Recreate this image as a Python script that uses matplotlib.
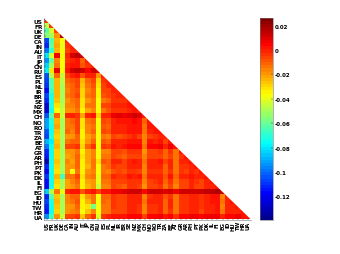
import numpy as np
import matplotlib
matplotlib.use('Agg')
import matplotlib.pyplot as plt
from matplotlib.patches import Polygon
from matplotlib.colors import LinearSegmentedColormap

countries = ['US','FR','UK','DE','CA','IN','AU','IT','JP','CN','RU','ES','PL','NL','IR','BR','SE','NZ','MX','CH',
             'NO','RO','TR','ZA','BE','AT','GR','AR','PH','PT','PK','DK','IL','FI','EG','ID','HU','TW','HR','UA']

# values, in thousandths
rows = [
 [-3],
 [-48,-3],
 [-62,-42,-5],
 [-55,-50,-20,14],
 [-106,-62,-25,-38,-2],
 [-112,-60,-21,-40,-3,-2],
 [-100,-68,-23,-38,-5,-2,-2],
 [-82,-42,6,-38,0,11,14,11],
 [-95,-60,-17,-38,-4,0,1,-11,0],
 [-84,-50,-13,-38,-2,2,1,-9,-4,-1],
 [-78,-32,10,-36,2,12,14,12,5,11,10],
 [-104,-48,-11,-44,-6,-1,1,-9,-2,-1,-18,-1],
 [-108,-62,-23,-47,-12,-9,-5,-25,-12,-7,-30,-4,-1],
 [-110,-64,-25,-50,-15,-10,-7,-27,-15,-9,-32,-5,-2,-1],
 [-118,-66,-25,-50,-17,-12,-9,-30,-17,-12,-34,-7,-5,-2,-1],
 [-108,-70,-25,-50,-15,-12,-7,-29,-15,-11,-34,-8,-7,-3,-2,0],
 [-113,-70,-27,-50,-19,-15,-11,-31,-20,-14,-36,-14,-12,-3,-3,-3,0],
 [-126,-70,-33,-48,-17,-16,-11,-33,-15,-13,-37,-7,-6,-1,-2,-1,1,1],
 [-126,-72,-37,-46,-18,-20,-15,-35,-22,-17,-38,-14,-9,-4,-3,-4,0,1,0],
 [-104,-62,-10,-44,0,0,-3,-21,-2,1,-28,0,0,6,9,8,9,11,9,3],
 [-92,-70,-25,-50,-14,-12,-6,-32,-15,-11,-36,-7,-8,0,1,1,2,4,3,-12,1],
 [-92,-72,-22,-50,-14,-15,-6,-31,-16,-14,-37,-9,-10,-1,-1,-2,2,1,2,-14,2,1],
 [-105,-72,-26,-51,-11,-17,-5,-34,-17,-11,-36,-7,-9,0,-2,-1,3,1,1,-15,-2,1,2],
 [-108,-70,-28,-50,-19,-19,-11,-35,-21,-16,-37,-15,-17,-6,-8,-7,-3,-2,-6,-17,-6,-4,-1,0],
 [-88,-78,-27,-50,-15,-11,-11,-33,-19,-11,-38,-9,-10,-1,-2,-2,1,2,1,-17,1,0,1,-5,1],
 [-100,-72,-23,-50,-7,-5,-3,-30,-12,-4,-38,-4,-5,3,0,2,5,5,4,-13,5,4,6,-2,6,3],
 [-112,-72,-28,-50,-20,-19,-13,-35,-22,-17,-38,-16,-17,-6,-7,-8,-3,-3,-4,-18,-5,-5,-3,-12,-4,-15,1],
 [-114,-72,-29,-50,-22,-19,-11,-33,-21,-17,-38,-15,-15,-7,-8,-10,-5,-6,-5,-17,-6,-6,-5,-11,-6,-15,-4,1],
 [-133,-74,-27,-50,-17,-22,-11,-35,-21,-15,-33,-9,-11,-2,-2,-5,0,1,0,-14,-1,-1,1,-6,0,-13,0,-1,2],
 [-112,-72,-29,-50,-20,-20,-12,-35,-23,-15,-38,-13,-12,-4,-5,-5,-2,-1,-1,-16,-1,-2,-2,-11,-2,-14,-4,-3,0,2],
 [-120,-72,-31,-50,-19,-38,-13,-34,-19,-17,-38,-15,-17,-8,-7,-9,-3,-3,-5,-16,-4,-4,-3,-10,-4,-15,-4,-5,-1,-3,1],
 [-110,-72,-23,-65,-15,-14,-7,-33,-17,-15,-40,-12,-11,-2,-3,-4,1,0,1,-14,0,-1,0,-8,1,-12,-1,-2,1,-1,-2,2],
 [-118,-72,-30,-50,-21,-17,-12,-34,-22,-19,-40,-15,-15,-5,-7,-7,-3,-3,-4,-16,-5,-4,-2,-12,-4,-15,-5,-5,-2,-4,-6,-1,1],
 [-118,-72,-31,-50,-21,-19,-13,-35,-23,-19,-46,-17,-17,-6,-9,-10,-4,-4,-5,-18,-7,-6,-4,-13,-5,-16,-6,-6,-2,-5,-7,-2,0,2],
 [-84,-48,-13,-40,0,1,2,-9,0,2,-5,2,1,6,8,9,11,12,11,5,11,11,12,9,12,6,11,11,13,12,12,14,15,16,12],
 [-112,-62,-27,-50,-17,-12,-11,-33,-19,-15,-36,-11,-12,-3,-5,-7,-1,0,-2,-16,-3,-2,-1,-9,-3,-14,-3,-3,0,-1,-3,0,1,1,-16,0],
 [-108,-70,-25,-50,-17,-15,-9,-35,-23,-13,-38,-11,-13,-3,-5,-5,0,-1,-1,-15,-2,-1,-1,-10,-1,-14,-3,-3,0,-1,-4,0,1,2,-15,0,1],
 [-112,-72,-27,-50,-18,-19,-11,-35,-33,-58,-37,-13,-13,-4,-6,-6,-1,-1,-3,-16,-3,-3,-2,-11,-2,-15,-4,-4,-1,-2,-4,0,0,1,-16,-1,0,1],
 [-114,-72,-28,-50,-20,-17,-13,-37,-27,-17,-38,-13,-15,-5,-6,-6,-2,-2,-3,-16,-3,-4,-2,-12,-3,-15,-4,-4,-1,-2,-5,-1,0,1,-15,-1,-1,0,1],
 [-95,-66,-19,-46,-7,-5,-4,-27,-11,-4,-42,-3,-2,1,2,2,4,5,4,-7,4,5,6,1,5,-3,5,5,6,6,4,6,7,7,-1,5,5,6,2,2],
]

n = len(countries)
matrix = np.full((n, n), np.nan)
for i, row in enumerate(rows):
    matrix[i, :len(row)] = np.array(row) / 1000.0

cbar_ticks = [0.02, 0, -0.02, -0.04, -0.06, -0.08, -0.1, -0.12]
cbar_labels = ['0.02', '0', '-0.02', '-0.04', '-0.06', '-0.08', '-0.1', '-0.12']
vmin, vmax = -0.139, 0.0263
W, H = 340, 255

fig = plt.figure(figsize=(W/100, H/100), dpi=100, facecolor='white')
ax = fig.add_axes([44/W, 1-220.5/H, 207/W, 201/H])
# MATLAB-style jet
cmap = LinearSegmentedColormap.from_list('mjet', [
    (0.0, (0, 0, 0.5625)), (0.125, (0, 0, 1)), (0.375, (0, 1, 1)),
    (0.625, (1, 1, 0)), (0.875, (1, 0, 0)), (1.0, (0.5, 0, 0))], N=64)
cmap.set_bad('white')
im = ax.imshow(np.ma.masked_invalid(matrix), cmap=cmap, vmin=vmin, vmax=vmax,
               aspect='auto', interpolation='nearest')
tri = Polygon([(-0.5, -0.5), (n-0.5, n-0.5), (-0.5, n-0.5)], closed=True, transform=ax.transData)
im.set_clip_path(tri)

ax.set_xticks(range(n))
ax.set_xticklabels(countries, rotation=90, fontsize=3.8, fontweight='bold')
ax.set_yticks(range(n))
ax.set_yticklabels(countries, fontsize=4.2, fontweight='bold')
ax.tick_params(axis='both', length=1.2, width=0.3, pad=1, direction='in', color='#333333')
ax.spines['top'].set_visible(False)
ax.spines['right'].set_visible(False)
for s in ['left', 'bottom']:
    ax.spines[s].set_linewidth(0.4)
    ax.spines[s].set_color('#777777')

cax = fig.add_axes([260/W, 1-220.5/H, 13/W, 201.5/H])
cb = fig.colorbar(im, cax=cax)
cb.set_ticks(cbar_ticks)
cb.set_ticklabels(cbar_labels)
cax.tick_params(axis='y', length=1.2, width=0.3, pad=1.5, direction='in', labelsize=4.0, color='#333333')
for t in cax.get_yticklabels():
    t.set_fontweight('bold')
cb.outline.set_linewidth(0.4)
cb.outline.set_edgecolor('#777777')

fig.savefig('out.png', dpi=100, facecolor='white')
